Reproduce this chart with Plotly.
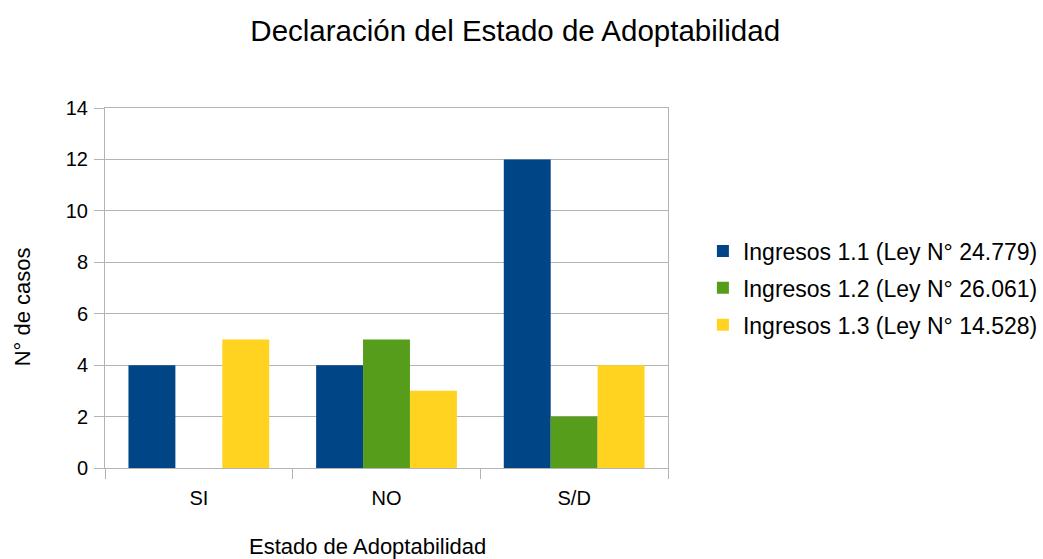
import plotly.graph_objects as go

categorias = ["SI", "NO", "S/D"]
series_nombres = [
    "Ingresos 1.1 (Ley N° 24.779)",
    "Ingresos 1.2 (Ley N° 26.061)",
    "Ingresos 1.3 (Ley N° 14.528)",
]
ingresos_11 = [4, 4, 12]
ingresos_12 = [0, 5, 2]
ingresos_13 = [5, 3, 4]
colores = ["#004586", "#579D1C", "#FFD320"]

fig = go.Figure()
for i, (nombre, valores, color) in enumerate(zip(series_nombres, [ingresos_11, ingresos_12, ingresos_13], colores)):
    fig.add_trace(go.Bar(x=categorias, y=valores, name=nombre, legendgroup=f"g{i}",
                         marker=dict(color=color, line=dict(width=0))))

# Axis titles placed as annotations, centred on the whole diagram area
fig.add_annotation(text="Estado de Adoptabilidad", xref="paper", yref="paper",
                   x=0.467, y=-0.219, xanchor="center", yanchor="middle",
                   showarrow=False, font=dict(size=22))
fig.add_annotation(text="N° de casos", xref="paper", yref="paper",
                   x=-0.147, y=0.447, xanchor="center", yanchor="middle",
                   textangle=-90, showarrow=False, font=dict(size=22))

fig.update_layout(
    width=1043, height=559,
    margin=dict(l=105, r=375, t=108, b=91, autoexpand=False),
    paper_bgcolor="white", plot_bgcolor="white",
    font=dict(family="Liberation Sans, Arial, sans-serif", color="#000000", size=20),
    title=dict(text="Declaración del Estado de Adoptabilidad", x=0.494, xanchor="center",
               y=0.945, yanchor="middle", font=dict(size=29.5)),
    barmode="group", bargap=0.25, bargroupgap=0,
    showlegend=True,
    legend=dict(x=1.062, y=0.5, xanchor="left", yanchor="middle",
                font=dict(size=23), traceorder="grouped", tracegroupgap=4),
    xaxis=dict(
        showline=True, linecolor="#b3b3b3", mirror=True,
        ticks="outside", tickson="boundaries", ticklen=10, tickcolor="#b3b3b3",
        ticklabelstandoff=12,
        showgrid=False,
    ),
    yaxis=dict(
        range=[0, 14], dtick=2,
        showline=True, linecolor="#b3b3b3", mirror=True,
        ticks="outside", ticklen=10, tickcolor="#b3b3b3",
        ticklabelstandoff=2,
        gridcolor="#b3b3b3", gridwidth=1, zeroline=False,
    ),
)

fig.write_html("out.html")
